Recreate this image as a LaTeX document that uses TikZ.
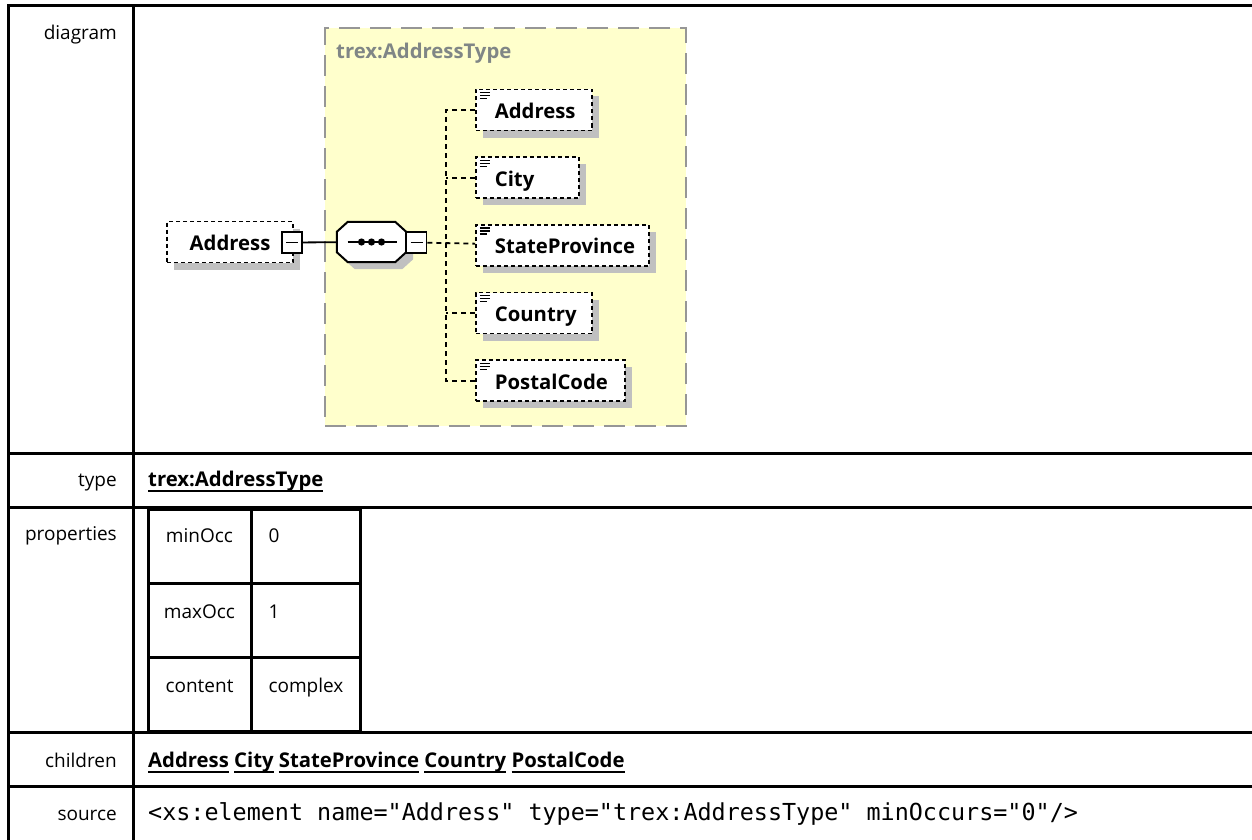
\documentclass[tikz,border=0pt]{standalone}
\usepackage{fontspec}
\setmainfont{Open Sans}
\setmonofont{DejaVu Sans Mono}
\usepackage{tikz}
\usetikzlibrary{positioning, shadows}
\definecolor{typefill}{RGB}{255,255,204}
\definecolor{typeborder}{RGB}{150,150,150}
\definecolor{typetext}{RGB}{128,134,134}
\definecolor{shadowgray}{RGB}{192,192,192}
\newcommand{\xsdlink}[1]{\setbox0\hbox{#1}\rlap{\rule[-6pt]{\wd0}{1.6pt}}\box0\relax}

\begin{document}
\begin{tikzpicture}[x=1pt, y=-1pt,
        node distance=25pt and 30pt,
        font=\fontsize{19}{23}\selectfont,
        boldtext/.style={font=\fontsize{20.3}{24}\selectfont\bfseries},
        grid/.style={line width=3pt, line cap=rect},
        rowlabel/.style={anchor=base east, inner sep=0pt},
        rowvalue/.style={anchor=base west, inner sep=0pt},
        shadowed/.style={drop shadow={shadow xshift=7pt, shadow yshift=-7pt, fill=shadowgray, opacity=1}},
        typebox/.style={rectangle, draw=typeborder, fill=typefill, line width=2pt, dash pattern=on 21pt off 10pt,
                        minimum width=361pt, minimum height=398pt, anchor=north west},
        elembox/.style={rectangle, draw=black, fill=white, line width=1.7pt, dash pattern=on 4pt off 3pt,
                        minimum height=41pt, text height=17pt, text depth=0pt, boldtext, shadowed},
        childbox/.style={elembox, anchor=west, inner xsep=0pt, text width=#1, align=left,
                         execute at begin node={\noindent\hspace*{19pt}},
                         path picture={\foreach \dy/\len in {3/10,6/10,9/7}
                             \draw [line width=1.2pt, solid] ([xshift=4pt, yshift=-\dy pt]path picture bounding box.north west) -- ++(\len,0);}},
        seqbox/.style={rectangle, minimum width=69pt, minimum height=40pt, inner sep=0pt},
        minusbox/.style={rectangle, draw, fill=white, line width=1.6pt, minimum width=20pt, minimum height=21pt, inner sep=0pt,
                         path picture={\draw [line width=1.6pt] ([xshift=-6pt]path picture bounding box.center) -- ([xshift=6pt]path picture bounding box.center);}},
        solidlink/.style={draw, line width=1.8pt},
        dashlink/.style={draw, line width=1.8pt, dash pattern=on 5pt off 4pt}
    ]
        \useasboundingbox (0,0) rectangle (1252,840);
        \draw [grid] (8,6) -- (1252,6);
        \draw [grid] (8,6) -- (8,840);
        \draw [grid] (133,6) -- (133,840);
        \foreach \ry in {453,507,732,786}
            \draw [grid] (8,\ry) -- (1252,\ry);

        \node [rowlabel] (lbldiagram) at (117,40) {diagram};
        \node [rowlabel] (lbltype) at (117,486) {type};
        \node [rowlabel] (lblprops) at (117,540) {properties};
        \node [rowlabel] (lblchildren) at (117,767) {children};
        \node [rowlabel] (lblsource) at (117,820) {source};

        \node [rowvalue, boldtext] (typeval) at (148,486) {\xsdlink{trex:AddressType}};
        \node [rowvalue, boldtext] (childval) at (148,767)
            {\xsdlink{Address} \xsdlink{City} \xsdlink{StateProvince} \xsdlink{Country} \xsdlink{PostalCode}};
        \node [rowvalue, font=\ttfamily\fontsize{23.4}{28}\selectfont] (srcval) at (148,820)
            {<xs:element name="Address" type="trex:AddressType" minOccurs="0"/>};

        \draw [grid] (148,509) rectangle (360,731);
        \draw [grid] (251,509) -- (251,731);
        \draw [grid] (148,583) -- (360,583);
        \draw [grid] (148,657) -- (360,657);
        \foreach \key/\val/\by [count=\i] in {minOcc/0/542, maxOcc/1/618, content/complex/692} {
            \node [anchor=base] (key\i) at (199.5,\by) {\key};
            \node [anchor=base west] (val\i) at (265,\by) {\val};
        }

        \node [typebox] (tbox) at (324,27) {};
        \node [anchor=base west, inner sep=0pt, text=typetext, boldtext] (tname) at (336,59) {trex:AddressType};
        \node [elembox, minimum width=126pt] (elem) at (230,242) {Address};
        \node [minusbox] (elemminus) at (292,242.5) {};
        \node [seqbox] (seq) at (371.5,242) {};
        \foreach \shx/\col/\edge in {7pt/shadowgray/none, 0pt/white/black}
            \path [fill=\col, draw=\edge, line width=2pt, transform canvas={xshift=\shx, yshift=-\shx}]
                ([xshift=11pt]seq.north west) -- ([xshift=-11pt]seq.north east) -- ([yshift=-10pt]seq.north east)
                -- ([yshift=10pt]seq.south east) -- ([xshift=-11pt]seq.south east) -- ([xshift=11pt]seq.south west)
                -- ([yshift=10pt]seq.south west) -- ([yshift=-10pt]seq.north west) -- cycle;
        \draw [line width=1.6pt] ([xshift=-24pt]seq.center) -- ([xshift=25pt]seq.center);
        \foreach \dx in {-10,0,10}
            \fill ([xshift=\dx pt]seq.center) circle (3.6pt);
        \node [minusbox] (seqminus) at (416.5,242.5) {};
        \node [childbox=116pt] (caddr) at (475,110) {Address};
        \node [childbox=103pt, below=of caddr.south west, anchor=north west] (ccity) {City};
        \node [childbox=173pt, below=of ccity.south west, anchor=north west] (cstate) {StateProvince};
        \node [childbox=116pt, below=of cstate.south west, anchor=north west] (ccountry) {Country};
        \node [childbox=149pt, below=of ccountry.south west, anchor=north west] (cpostal) {PostalCode};
        \path [solidlink] (elemminus) -- (seq);
        \path [dashlink] (seqminus) -- (cstate);
        \path [dashlink] (caddr.west) -- ++(-29,0) |- (cpostal.west);
        \path [dashlink] (ccity.west) -- ++(-29,0);
        \path [dashlink] (ccountry.west) -- ++(-29,0);
    \end{tikzpicture}
\end{document}
